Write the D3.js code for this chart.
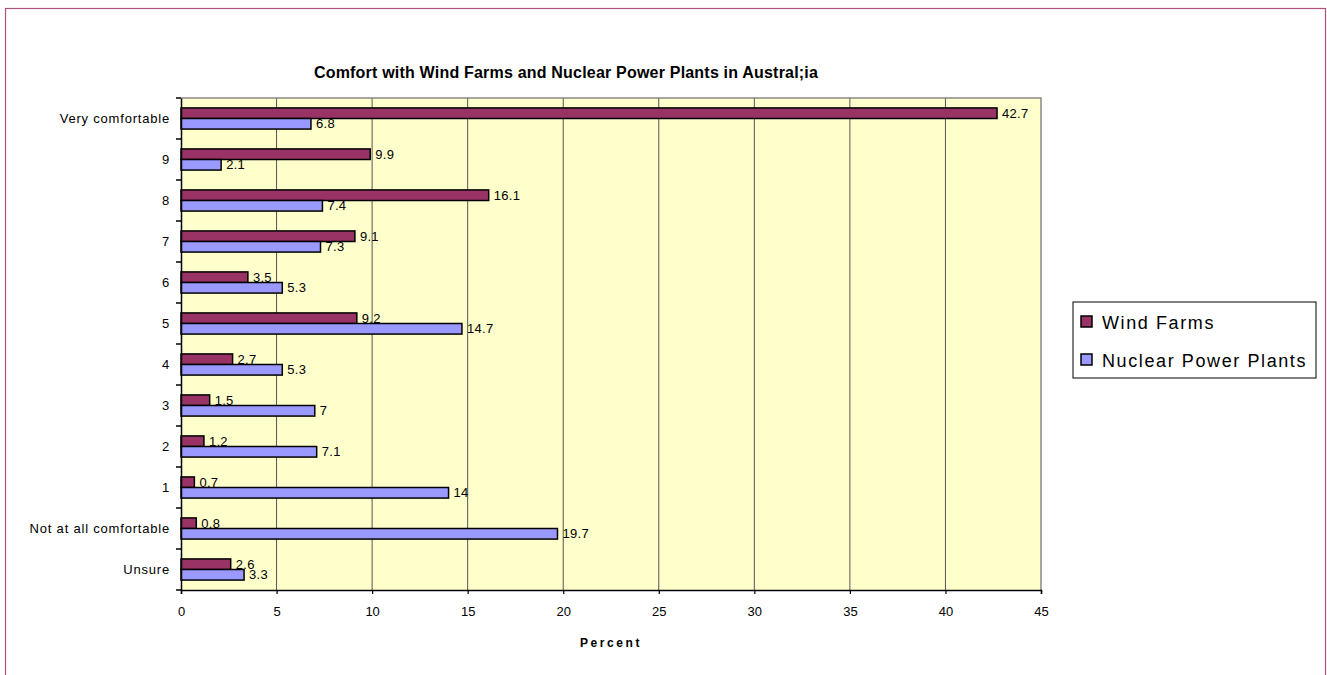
<!DOCTYPE html>
<html>
<head>
<meta charset="utf-8">
<script src="https://cdn.jsdelivr.net/npm/d3@7"></script>
<style>
  body { margin: 0; background: #fff; }
  svg { font-family: "Liberation Sans", Arial, sans-serif; }
</style>
</head>
<body>
<svg id="chart" width="1327" height="675"></svg>
<script>
// data
const categories = ["Very comfortable", "9", "8", "7", "6", "5", "4", "3", "2", "1", "Not at all comfortable", "Unsure"];
const seriesNames = ["Wind Farms", "Nuclear Power Plants"];
const windFarms = [42.7, 9.9, 16.1, 9.1, 3.5, 9.2, 2.7, 1.5, 1.2, 0.7, 0.8, 2.6];
const nuclearPlants = [6.8, 2.1, 7.4, 7.3, 5.3, 14.7, 5.3, 7, 7.1, 14, 19.7, 3.3];
const xTicks = [0, 5, 10, 15, 20, 25, 30, 35, 40, 45];
const colors = ["#993366", "#9999ff"];

const svg = d3.select("#chart");

// outer chart border
svg.append("rect")
  .attr("x", 5.5).attr("y", 8.5)
  .attr("width", 1320).attr("height", 680)
  .attr("fill", "#fff")
  .attr("stroke", "#b0507f")
  .attr("stroke-width", 1.2);

const plot = { left: 181, top: 98, right: 1041, bottom: 590 };

const x = d3.scaleLinear().domain([0, 45]).range([plot.left, plot.right]);
const y = d3.scaleBand().domain(categories).range([plot.top, plot.bottom]);
const inner = d3.scaleBand().domain(seriesNames).range([0, y.bandwidth()]).paddingInner(0).paddingOuter(0.94);

// plot area background
svg.append("rect")
  .attr("x", plot.left).attr("y", plot.top)
  .attr("width", plot.right - plot.left).attr("height", plot.bottom - plot.top)
  .attr("fill", "#ffffcc");

// vertical gridlines
svg.append("g").selectAll("line").data(xTicks.slice(1, -1)).join("line")
  .attr("x1", d => x(d)).attr("x2", d => x(d))
  .attr("y1", plot.top).attr("y2", plot.bottom)
  .attr("stroke", "#555").attr("stroke-width", 1);

// plot border (gray top + right)
svg.append("path")
  .attr("d", `M${plot.left},${plot.top}H${plot.right}V${plot.bottom}`)
  .attr("fill", "none").attr("stroke", "#888").attr("stroke-width", 1.5);

// bars
const rows = categories.map((c, i) => ({ cat: c, values: [windFarms[i], nuclearPlants[i]] }));
const groups = svg.append("g").selectAll("g").data(rows).join("g")
  .attr("transform", d => `translate(0,${y(d.cat)})`);

groups.selectAll("rect").data(d => d.values.map((v, j) => ({ v, s: seriesNames[j], j }))).join("rect")
  .attr("x", x(0))
  .attr("y", d => inner(d.s))
  .attr("width", d => x(d.v) - x(0))
  .attr("height", inner.bandwidth())
  .attr("fill", d => colors[d.j])
  .attr("stroke", "#000").attr("stroke-width", 1.5);

groups.selectAll("text").data(d => d.values.map((v, j) => ({ v, s: seriesNames[j], j }))).join("text")
  .attr("x", d => x(d.v) + 5)
  .attr("y", d => inner(d.s) + inner.bandwidth() / 2 + 4.5)
  .attr("font-size", 13)
  .attr("letter-spacing", 0.3)
  .attr("fill", "#000")
  .text(d => d.v);

// y axis
const yAxis = svg.append("g").attr("transform", `translate(${plot.left},0)`)
  .call(d3.axisLeft(y).tickSize(0).tickPadding(11));
yAxis.select(".domain").attr("stroke", "#000").attr("stroke-width", 1.5);
yAxis.selectAll("text").attr("font-size", 13).attr("letter-spacing", 0.8)
  .attr("font-family", "Liberation Sans, Arial, sans-serif");
// boundary ticks between categories
svg.append("g").selectAll("line").data(d3.range(categories.length + 1)).join("line")
  .attr("x1", plot.left - 5).attr("x2", plot.left)
  .attr("y1", i => plot.top + i * y.step()).attr("y2", i => plot.top + i * y.step())
  .attr("stroke", "#000").attr("stroke-width", 1.5);

// x axis
const xAxis = svg.append("g").attr("transform", `translate(0,${plot.bottom})`)
  .call(d3.axisBottom(x).tickValues(xTicks).tickSize(4).tickPadding(13));
xAxis.select(".domain").attr("stroke", "#000").attr("stroke-width", 1.5);
xAxis.selectAll(".tick line").attr("stroke", "#000").attr("stroke-width", 1.2);
xAxis.selectAll("text").attr("font-size", 13)
  .attr("font-family", "Liberation Sans, Arial, sans-serif");

// axis title
svg.append("text")
  .attr("x", (plot.left + plot.right) / 2).attr("y", 647)
  .attr("text-anchor", "middle")
  .attr("font-size", 12).attr("font-weight", "bold")
  .attr("letter-spacing", 2.6)
  .text("Percent");

// chart title
svg.append("text")
  .attr("x", 566).attr("y", 78)
  .attr("text-anchor", "middle")
  .attr("font-size", 16).attr("font-weight", "bold")
  .attr("letter-spacing", 0.2)
  .text("Comfort with Wind Farms and Nuclear Power Plants in Austral;ia");

// legend
const legend = svg.append("g").attr("transform", "translate(1073,302)");
legend.append("rect")
  .attr("width", 243).attr("height", 76)
  .attr("fill", "#fff").attr("stroke", "#000").attr("stroke-width", 1);
const li = legend.selectAll("g").data(seriesNames).join("g")
  .attr("transform", (d, i) => `translate(8,${20 + i * 38})`);
li.append("rect")
  .attr("x", 0).attr("y", -6).attr("width", 11).attr("height", 11)
  .attr("fill", (d, i) => colors[i]).attr("stroke", "#000").attr("stroke-width", 1.5);
li.append("text")
  .attr("x", 21).attr("y", 6.5)
  .attr("font-size", 18)
  .attr("letter-spacing", 1.6)
  .text(d => d);
</script>
</body>
</html>
